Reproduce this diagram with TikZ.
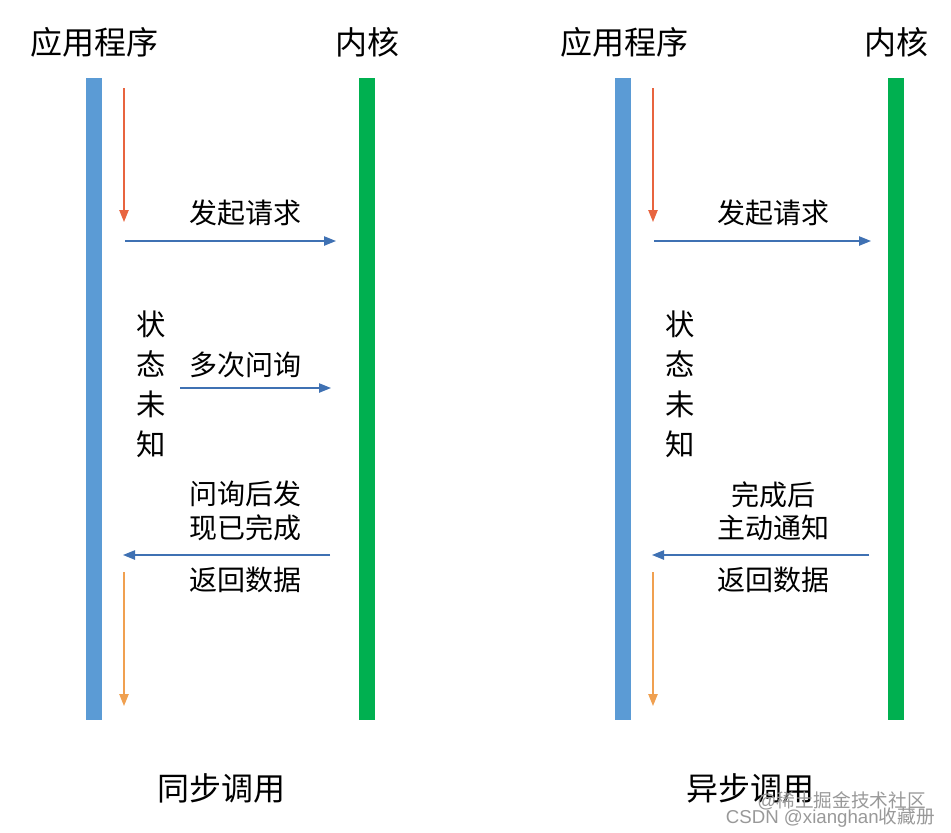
\documentclass[tikz,border=0pt]{standalone}
\usepackage{fontspec}
\setmainfont{Noto Sans CJK SC}
\setsansfont{Liberation Sans}
\usetikzlibrary{arrows.meta,positioning}

\definecolor{appblue}{HTML}{5B9BD5}
\definecolor{kergreen}{HTML}{00B050}
\definecolor{msgblue}{HTML}{3F71B3}
\definecolor{startred}{HTML}{E8643F}
\definecolor{endorange}{HTML}{F0A050}

\tikzset{
  head/.style={font=\fontsize{24}{28}\selectfont},
  lbl/.style={font=\fontsize{21}{25}\selectfont, align=center},
  side/.style={font=\fontsize{22}{30}\selectfont, align=center},
  title/.style={font=\fontsize{24}{28}\selectfont},
  wmark/.style={font=\sffamily\fontsize{14}{15}\selectfont, text=gray!80, inner sep=0pt},
  bar/.style={minimum width=12pt, minimum height=481.5pt, inner sep=0pt, anchor=north},
  msg/.style={msgblue, line width=1pt, -{Triangle[length=9pt,width=7pt]}},
  flow/.style={line width=1pt, -{Triangle[length=9pt,width=7pt]}}
}

\begin{document}
\begin{tikzpicture}[x=0.75pt, y=-0.75pt]
  \useasboundingbox[fill=white] (0,0) rectangle (951,833);

  % 左：同步调用
  \node[bar, fill=appblue]  (appL) at (94,78)  {};
  \node[bar, fill=kergreen] (kerL) at (367,78) {};
  \node[head] (happL) at (95,42)  {应用程序};
  \node[head] (hkerL) at (367,42) {内核};

  \coordinate (r1) at (124,88);  \coordinate (r2) at (124,222);
  \draw[flow, startred] (r1) -- (r2);
  \node[lbl] (reqL) at (245,213) {发起请求};
  \coordinate (a1) at (125,241); \coordinate (a2) at (336,241);
  \draw[msg] (a1) -- (a2);

  \node[side] (stL) at (151,384) {状\\态\\未\\知};
  \node[lbl] (pollL) at (245,365) {多次问询};
  \coordinate (b1) at (180,388); \coordinate (b2) at (331,388);
  \draw[msg] (b1) -- (b2);

  \node[lbl] (doneL) at (245,511) {问询后发\\现已完成};
  \coordinate (c1) at (330,555); \coordinate (c2) at (123,555);
  \draw[msg] (c1) -- (c2);
  \node[lbl] (retL) at (245,580) {返回数据};

  \coordinate (o1) at (124,572); \coordinate (o2) at (124,706);
  \draw[flow, endorange] (o1) -- (o2);
  \node[title] (tL) at (221,788) {同步调用};

  % 右：异步调用
  \node[bar, fill=appblue]  (appR) at (623,78) {};
  \node[bar, fill=kergreen] (kerR) at (896,78) {};
  \node[head] (happR) at (624,42) {应用程序};
  \node[head] (hkerR) at (896,42) {内核};

  \coordinate (r3) at (653,88);  \coordinate (r4) at (653,222);
  \draw[flow, startred] (r3) -- (r4);
  \node[lbl] (reqR) at (773,213) {发起请求};
  \coordinate (a3) at (654,241); \coordinate (a4) at (871,241);
  \draw[msg] (a3) -- (a4);

  \node[side] (stR) at (680,384) {状\\态\\未\\知};

  \node[lbl] (doneR) at (773,511) {完成后\\主动通知};
  \coordinate (c3) at (869,555); \coordinate (c4) at (652,555);
  \draw[msg] (c3) -- (c4);
  \node[lbl] (retR) at (773,580) {返回数据};

  \coordinate (o3) at (653,572); \coordinate (o4) at (653,706);
  \draw[flow, endorange] (o3) -- (o4);
  \node[title] (tR) at (750,788) {异步调用};

  % 水印
  \node[wmark, anchor=east] (wm1) at (926,801) {@\rmfamily 稀土掘金技术社区};
  \node[wmark, anchor=east] (wm2) at (935,818) {CSDN @xianghan\rmfamily 收藏册};
\end{tikzpicture}
\end{document}
